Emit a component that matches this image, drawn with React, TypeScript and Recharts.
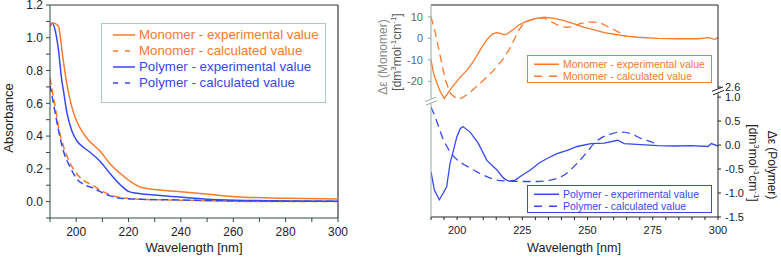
import { LineChart, Line, XAxis, YAxis, ReferenceLine, ReferenceDot } from "recharts";

const FONT = '"Liberation Sans", Arial, Helvetica, sans-serif';
const ORANGE = "#f97a2c";
const BLUE = "#3748ee";

// ---- left panel: absorbance ----
const absXTicks = [190, 200, 210, 220, 230, 240, 250, 260, 270, 280, 290, 300];
const absXLabels = ["", "200", "", "220", "", "240", "", "260", "", "280", "", "300"];
const absYTicks = [-0.1, 0, 0.1, 0.2, 0.3, 0.4, 0.5, 0.6, 0.7, 0.8, 0.9, 1.0, 1.1, 1.2];
const absYLabels = ["", "0.0", "", "0.2", "", "0.4", "", "0.6", "", "0.8", "", "1.0", "", "1.2"];

const monoExpWl = [190, 191.3, 193.2, 194.9, 196.4, 198.3, 200.2, 202.6, 205, 209, 213, 217, 221, 225, 233, 240, 250.5, 260.7, 281, 300];
const monoExpAbs = [1.07, 1.09, 1.07, 0.88, 0.72, 0.58, 0.49, 0.42, 0.37, 0.31, 0.23, 0.17, 0.12, 0.086, 0.07, 0.06, 0.045, 0.03, 0.02, 0.016];

const polyExpWl = [190, 190.9, 191.9, 193.2, 194.5, 195.1, 196.5, 198.4, 200.3, 202.9, 205.4, 209.2, 213, 217, 220.2, 223.4, 232, 242.5, 250, 261, 300];
const polyExpAbs = [1.07, 1.09, 1.05, 0.93, 0.74, 0.68, 0.54, 0.43, 0.37, 0.33, 0.3, 0.245, 0.17, 0.1, 0.061, 0.051, 0.037, 0.024, 0.014, 0.008, 0.002];

const monoCalcWl = [190, 191.3, 192.6, 193.2, 195.1, 197.7, 200.2, 202.8, 206.7, 209.2, 213, 217, 225, 235, 250, 260, 273, 300];
const monoCalcAbs = [0.755, 0.64, 0.52, 0.46, 0.34, 0.235, 0.17, 0.13, 0.096, 0.071, 0.041, 0.024, 0.014, 0.01, 0.006, 0.002, 0, 0];

const polyCalcWl = [190, 191.3, 193.2, 195.1, 197.7, 200.2, 202.8, 206.7, 209.2, 213, 217, 225, 240, 260, 300];
const polyCalcAbs = [0.71, 0.6, 0.44, 0.31, 0.21, 0.14, 0.106, 0.082, 0.061, 0.035, 0.02, 0.014, 0.01, 0.004, 0.002];

// ---- right panel: CD ----
const cdXTicks = [190, 195, 200, 205, 210, 215, 220, 225, 230, 235, 240, 245, 250, 255, 260, 265, 270, 275, 280, 285, 290, 295, 300];
const cdXLabels = ["", "", "200", "", "", "", "", "225", "", "", "", "", "250", "", "", "", "", "275", "", "", "", "", "300"];
const monoTicks = [-20, -10, 0, 10];
const monoLabels = ["-20", "-10", "0", "10"];
const polyTicks = [-1.5, -1, -0.5, 0, 0.5, 1, 1.21];
const polyLabels = ["-1.5", "-1.0", "-0.5", "0.0", "0.5", "1.0", "2.6"];
const monoDomain = [-83.1, 15.5];
const polyDomain = [-1.5, 2.92];
const monoBreak = -29.2;
const polyBreak = 1.13;

const monoCdExpWl = [190, 191, 192.3, 193.6, 195.1, 196.8, 198.7, 201.3, 203.8, 205.7, 207.7, 209.6, 211.5, 213.5, 215.1, 216.7, 218, 219.2, 221.2, 223.7, 226.3, 229.5, 233.3, 237.2, 241, 244.9, 248.7, 252.6, 256.4, 260.3, 264.1, 269.2, 276.9, 284.6, 292.3, 296.2, 298.7, 300];
const monoCdExp = [-10, -16.3, -21, -24.9, -28, -24.9, -21.8, -17.9, -14.8, -11.7, -7.8, -3.9, -0.5, 2.0, 2.6, 2.3, 1.6, 2.0, 3.9, 6.2, 7.8, 9.0, 9.8, 9.3, 8.2, 6.7, 5.1, 3.9, 2.6, 1.9, 1.1, 0.5, 0, -0.2, -0.2, 0.3, -0.5, 0.3];

const monoCdCalcWl = [190, 191.7, 193.6, 195.5, 197.5, 200, 201.9, 204.5, 207, 210.2, 214.1, 217.3, 219.9, 221.8, 223.7, 225.6, 228.2, 230.8, 233.3, 235.9, 238.5, 241.7, 244.2, 246.8, 249.3, 252.6, 255.8, 259, 262.8, 264.7];
const monoCdCalc = [10.1, 2.3, -8.6, -19.4, -25.7, -28.3, -27.7, -25.7, -22.9, -19.4, -14.8, -10.1, -5.4, -0.8, 3.9, 7.0, 8.6, 9.3, 9.5, 7.8, 6.2, 5.1, 5.4, 6.7, 7.5, 7.5, 6.7, 4.7, 2.3, 0.8];

const polyCdExpWl = [190, 191.3, 193.2, 194.7, 196, 197.3, 198.6, 199.9, 201.2, 202.2, 205, 208.2, 211.4, 215.3, 217.8, 219.7, 222.3, 224.9, 228.1, 231.3, 234.5, 238.3, 242.2, 246, 251.3, 256.4, 261.5, 264.1, 270.5, 276.9, 283.3, 289.7, 296.2, 297.4, 300];
const polyCdExp = [-0.56, -0.94, -1.14, -1.0, -0.87, -0.38, -0.11, 0.17, 0.34, 0.385, 0.27, 0.03, -0.32, -0.52, -0.69, -0.75, -0.73, -0.63, -0.52, -0.38, -0.28, -0.18, -0.11, -0.03, 0.03, 0.04, 0.1, 0.03, 0.01, -0.01, -0.02, -0.01, -0.03, 0.03, -0.02];

const polyCdCalcWl = [190, 191.5, 192.8, 194.7, 196, 197.3, 199.9, 203.7, 207.6, 211.4, 215.3, 219.1, 225.5, 230.6, 235.8, 240.9, 246, 249.9, 252.4, 255, 258.8, 262.7, 266.5, 270.4, 274.2, 276.8];
const polyCdCalc = [0.79, 0.6, 0.4, 0.12, -0.02, -0.14, -0.3, -0.44, -0.56, -0.66, -0.73, -0.75, -0.76, -0.76, -0.73, -0.63, -0.38, -0.14, 0.03, 0.14, 0.23, 0.27, 0.24, 0.14, 0.07, 0.01];

const pairs = (xs: number[], ys: number[]) => xs.map((wl, i) => ({ wl, v: ys[i] }));

const tickRenderer =
  (ticks: number[], labels: string[], side: "x" | "left" | "right", fill: string, fontSize: number) =>
  (props: any) => {
    const { x, y, payload } = props;
    const i = ticks.findIndex((t) => Math.abs(t - payload.value) < 1e-6);
    const label = i >= 0 ? labels[i] : "";
    if (!label) return <g />;
    const anchor = side === "x" ? "middle" : side === "left" ? "end" : "start";
    return (
      <text x={x} y={y} dy={side === "x" ? "0.8em" : "0.35em"} textAnchor={anchor} fill={fill} fontSize={fontSize} fontFamily={FONT}>
        {label}
      </text>
    );
  };

const BreakMark = (color: string) => (props: any) => {
  const { cx, cy } = props;
  return (
    <g>
      <rect x={cx - 2} y={cy - 2.5} width={4} height={5} fill="#fff" />
      <line x1={cx - 6} y1={cy + 0.5} x2={cx + 5} y2={cy - 4} stroke={color} strokeWidth={1} />
      <line x1={cx - 5} y1={cy + 4} x2={cx + 6} y2={cy - 0.5} stroke={color} strokeWidth={1} />
    </g>
  );
};

interface LegendItem {
  label: string;
  color: string;
  dashed: boolean;
}

function LegendBox(p: {
  left: number; top: number; width: number; height: number; border: string; borderWidth: number;
  items: LegendItem[]; rowH: number; padTop: number; fontSize: number; sampleX: number; sampleW: number; textX: number; dash: string;
}) {
  return (
    <div
      style={{
        position: "absolute", left: p.left, top: p.top, width: p.width, height: p.height,
        boxSizing: "border-box", border: `${p.borderWidth}px solid ${p.border}`, background: "#fff",
        fontFamily: FONT, fontSize: p.fontSize,
      }}
    >
      {p.items.map((it, i) => (
        <div key={it.label} style={{ position: "absolute", left: 0, top: p.padTop + i * p.rowH, height: p.rowH, width: "100%" }}>
          <svg width={p.sampleW + 2} height={p.rowH} style={{ position: "absolute", left: p.sampleX, top: 0 }}>
            <line x1={1} x2={p.sampleW + 1} y1={p.rowH / 2} y2={p.rowH / 2} stroke={it.color} strokeWidth={1.5} strokeDasharray={it.dashed ? p.dash : undefined} />
          </svg>
          <span style={{ position: "absolute", left: p.textX, top: 0, lineHeight: `${p.rowH}px`, color: it.color, whiteSpace: "nowrap" }}>
            {it.label}
          </span>
        </div>
      ))}
    </div>
  );
}

const absLegend: LegendItem[] = [
  { label: "Monomer - experimental value", color: ORANGE, dashed: false },
  { label: "Monomer - calculated value", color: ORANGE, dashed: true },
  { label: "Polymer - experimental value", color: BLUE, dashed: false },
  { label: "Polymer - calculated value", color: BLUE, dashed: true },
];

const AXIS_DARK = "#2c4a43";

export default function App() {
  return (
    <div style={{ position: "absolute", left: 0, top: 0, width: 781, height: 259, background: "#fff", overflow: "hidden" }}>
      <div style={{ position: "absolute", left: 0, top: 0 }}>
        <LineChart width={390} height={259} margin={{ top: 5, right: 52, left: 0, bottom: 11 }}>
          <XAxis
            type="number" dataKey="wl" domain={[190, 300]} ticks={absXTicks} interval={0} allowDataOverflow
            height={30} tickSize={4} tickMargin={4}
            axisLine={{ stroke: AXIS_DARK }} tickLine={{ stroke: AXIS_DARK }}
            tick={tickRenderer(absXTicks, absXLabels, "x", "#222", 12)}
          />
          <YAxis
            type="number" domain={[-0.1, 1.2]} ticks={absYTicks} interval={0} allowDataOverflow
            width={50} tickSize={4} tickMargin={3}
            axisLine={{ stroke: AXIS_DARK }} tickLine={{ stroke: AXIS_DARK }}
            tick={tickRenderer(absYTicks, absYLabels, "left", "#222", 12)}
          />
          <ReferenceLine y={1.2} stroke="#3a3a3a" strokeWidth={1.2} />
          <ReferenceLine x={300} stroke="#3a3a3a" strokeWidth={1.2} />
          <Line data={pairs(monoCalcWl, monoCalcAbs)} dataKey="v" type="monotone" stroke={ORANGE} strokeWidth={1.5} strokeDasharray="7 4" dot={false} isAnimationActive={false} />
          <Line data={pairs(polyCalcWl, polyCalcAbs)} dataKey="v" type="monotone" stroke={BLUE} strokeWidth={1.5} strokeDasharray="7 4" dot={false} isAnimationActive={false} />
          <Line data={pairs(polyExpWl, polyExpAbs)} dataKey="v" type="monotone" stroke={BLUE} strokeWidth={1.5} dot={false} isAnimationActive={false} />
          <Line data={pairs(monoExpWl, monoExpAbs)} dataKey="v" type="monotone" stroke={ORANGE} strokeWidth={1.5} dot={false} isAnimationActive={false} />
        </LineChart>
      </div>

      <div style={{ position: "absolute", left: 390, top: 0 }}>
        <LineChart width={391} height={259} margin={{ top: 5, right: 0, left: 0, bottom: 12 }}>
          <XAxis
            type="number" dataKey="wl" domain={[190, 300]} ticks={cdXTicks} interval={0} allowDataOverflow
            height={30} tickSize={3} tickMargin={5}
            axisLine={{ stroke: "#222" }} tickLine={{ stroke: "#222" }}
            tick={tickRenderer(cdXTicks, cdXLabels, "x", "#222", 11)}
          />
          <YAxis
            yAxisId="mono" type="number" domain={monoDomain} ticks={monoTicks} interval={0} allowDataOverflow
            width={41} tickSize={3} tickMargin={5}
            axisLine={{ stroke: "#93a99e" }} tickLine={{ stroke: "#93a99e" }}
            tick={tickRenderer(monoTicks, monoLabels, "left", "#666", 11)}
          />
          <YAxis
            yAxisId="poly" orientation="right" type="number" domain={polyDomain} ticks={polyTicks} interval={0} allowDataOverflow
            width={63} tickSize={3} tickMargin={4}
            axisLine={{ stroke: "#222" }} tickLine={{ stroke: "#222" }}
            tick={tickRenderer(polyTicks, polyLabels, "right", "#222", 11)}
          />
          <ReferenceLine yAxisId="mono" y={monoDomain[1]} stroke="#222" strokeWidth={1.2} />
          <Line yAxisId="mono" data={pairs(monoCdCalcWl, monoCdCalc)} dataKey="v" type="linear" stroke={ORANGE} strokeWidth={1.3} strokeDasharray="8 5" dot={false} isAnimationActive={false} />
          <Line yAxisId="mono" data={pairs(monoCdExpWl, monoCdExp)} dataKey="v" type="linear" stroke={ORANGE} strokeWidth={1.3} dot={false} isAnimationActive={false} />
          <Line yAxisId="poly" data={pairs(polyCdCalcWl, polyCdCalc)} dataKey="v" type="monotone" stroke={BLUE} strokeWidth={1.3} strokeDasharray="8 5" dot={false} isAnimationActive={false} />
          <Line yAxisId="poly" data={pairs(polyCdExpWl, polyCdExp)} dataKey="v" type="linear" stroke={BLUE} strokeWidth={1.3} dot={false} isAnimationActive={false} />
          <ReferenceDot yAxisId="mono" x={190} y={monoBreak} r={0} ifOverflow="visible" shape={BreakMark("#93a99e")} />
          <ReferenceDot yAxisId="poly" x={300} y={polyBreak} r={0} ifOverflow="visible" shape={BreakMark("#222")} />
        </LineChart>
      </div>

      <LegendBox left={101} top={23} width={225} height={80} border="#a9cbb9" borderWidth={1} items={absLegend}
        rowH={16} padTop={3} fontSize={13.3} sampleX={10} sampleW={22} textX={37} dash="5 7" />
      <LegendBox left={527} top={55} width={185} height={28} border={ORANGE} borderWidth={1.5} items={absLegend.slice(0, 2)}
        rowH={12.5} padTop={1.5} fontSize={10.5} sampleX={5} sampleW={25} textX={35} dash="8 7" />
      <LegendBox left={527} top={185} width={185} height={28} border={BLUE} borderWidth={1.5} items={absLegend.slice(2)}
        rowH={12.5} padTop={1.5} fontSize={10.5} sampleX={5} sampleW={25} textX={35} dash="8 7" />

      <svg width={781} height={259} style={{ position: "absolute", left: 0, top: 0, pointerEvents: "none" }} fontFamily={FONT}>
        <text x={194} y={252} textAnchor="middle" fontSize={13} fill="#222">Wavelength [nm]</text>
        <text x={574} y={252} textAnchor="middle" fontSize={12.6} fill="#222">Wavelength [nm]</text>
        <text transform="translate(8,118) rotate(-90)" textAnchor="middle" dominantBaseline="central" fontSize={13} fill="#222">Absorbance</text>
        <text transform="translate(383,57) rotate(-90)" textAnchor="middle" dominantBaseline="central" fontSize={12} fill="#8a8a8a">
          Δε (Monomer)
        </text>
        <text transform="translate(397,52) rotate(-90)" textAnchor="middle" dominantBaseline="central" fontSize={12} fill="#555">
          [dm<tspan dy={-4} fontSize={8}>3</tspan><tspan dy={4}>mol</tspan><tspan dy={-4} fontSize={8}>-1</tspan><tspan dy={4}>cm</tspan><tspan dy={-4} fontSize={8}>-1</tspan><tspan dy={4}>]</tspan>
        </text>
        <text transform="translate(753,163) rotate(90)" textAnchor="middle" dominantBaseline="central" fontSize={12} fill="#222">
          [dm<tspan dy={-4} fontSize={8}>3</tspan><tspan dy={4}>mol</tspan><tspan dy={-4} fontSize={8}>-1</tspan><tspan dy={4}>cm</tspan><tspan dy={-4} fontSize={8}>-1</tspan><tspan dy={4}>]</tspan>
        </text>
        <text transform="translate(772,165) rotate(90)" textAnchor="middle" dominantBaseline="central" fontSize={12} fill="#222">
          Δε (Polymer)
        </text>
      </svg>
    </div>
  );
}
